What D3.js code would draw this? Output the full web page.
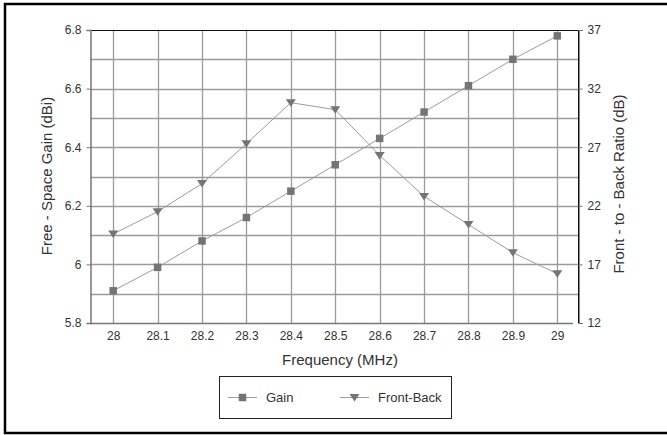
<!DOCTYPE html>
<html>
<head>
<meta charset="utf-8">
<script src="https://cdn.jsdelivr.net/npm/d3@7"></script>
<style>
  html, body { margin: 0; padding: 0; background: #fff; }
  svg { display: block; font-family: "Liberation Sans", Arial, sans-serif; }
</style>
</head>
<body>
<svg id="chart" width="667" height="435"></svg>
<script>
// Antenna sweep across the 10 m band
const frequencies = ["28", "28.1", "28.2", "28.3", "28.4", "28.5", "28.6", "28.7", "28.8", "28.9", "29"];
const gainValues = [5.91, 5.99, 6.08, 6.16, 6.25, 6.34, 6.43, 6.52, 6.61, 6.70, 6.78];
const frontBackValues = [19.6, 21.5, 23.9, 27.3, 30.8, 30.2, 26.3, 22.8, 20.4, 18.0, 16.2];
const gainTicks = [5.8, 6.0, 6.2, 6.4, 6.6, 6.8];
const gainGrid = [5.9, 6.0, 6.1, 6.2, 6.3, 6.4, 6.5, 6.6, 6.7];
const ratioTicks = [12, 17, 22, 27, 32, 37];
const seriesNames = ["Gain", "Front-Back"];

const svg = d3.select("#chart");
const plot = { left: 90, right: 578, top: 30, bottom: 323 };

const x = d3.scalePoint().domain(frequencies).range([91, 579.5]).padding(0.5);
const yGain = d3.scaleLinear().domain([5.8, 6.8]).range([plot.bottom, plot.top]);
const yRatio = d3.scaleLinear().domain([12, 37]).range([plot.bottom, plot.top]);

const textColor = "#333";
const gridColor = "#9a9a9a";
const lineColor = "#9c9c9c";
const markColor = "#747474";

// outer frame
svg.append("rect")
  .attr("x", 5).attr("y", 4).attr("width", 670).attr("height", 429)
  .attr("fill", "none").attr("stroke", "#000").attr("stroke-width", 2.5);

// grid
const grid = svg.append("g");
grid.selectAll("line.h").data(gainGrid).join("line")
  .attr("x1", plot.left).attr("x2", plot.right)
  .attr("y1", d => Math.round(yGain(d)) + 0.5).attr("y2", d => Math.round(yGain(d)) + 0.5)
  .attr("stroke", gridColor).attr("stroke-width", 1.3);
grid.selectAll("line.v").data(frequencies).join("line")
  .attr("x1", d => Math.round(x(d)) + 0.5).attr("x2", d => Math.round(x(d)) + 0.5)
  .attr("y1", plot.top).attr("y2", plot.bottom)
  .attr("stroke", gridColor).attr("stroke-width", 1.3);

// plot frame: dark top/right, grey left/bottom
svg.append("line").attr("x1", plot.left).attr("x2", plot.right + 0.5)
  .attr("y1", plot.top + 0.5).attr("y2", plot.top + 0.5).attr("stroke", "#111");
svg.append("line").attr("x1", plot.right + 0.5).attr("x2", plot.right + 0.5)
  .attr("y1", plot.top).attr("y2", plot.bottom).attr("stroke", "#111");

// left axis
const leftAxis = d3.axisLeft(yGain).tickValues(gainTicks).tickSize(4).tickPadding(5)
  .tickFormat(d => d3.format("~g")(d));
const gL = svg.append("g").attr("transform", `translate(${plot.left + 0.5},0)`).call(leftAxis);
gL.select(".domain").attr("stroke", "#777").attr("stroke-width", 1.5);
gL.selectAll(".tick line").attr("stroke", "#777");
gL.selectAll(".tick text").attr("fill", textColor).style("font-size", "12px")
  .style("font-family", "Liberation Sans, Arial, sans-serif");

// right axis
const rightAxis = d3.axisRight(yRatio).tickValues(ratioTicks).tickSize(4).tickPadding(5);
const gR = svg.append("g").attr("transform", `translate(${plot.right + 0.5},0)`).call(rightAxis);
gR.select(".domain").attr("stroke", "#111");
gR.selectAll(".tick line").attr("stroke", "#777");
gR.selectAll(".tick text").attr("fill", textColor).style("font-size", "12px")
  .style("font-family", "Liberation Sans, Arial, sans-serif");

// bottom axis
const bottomAxis = d3.axisBottom(x).tickSize(0).tickPadding(8);
const gB = svg.append("g").attr("transform", `translate(0,${plot.bottom + 0.5})`).call(bottomAxis);
gB.select(".domain").attr("d", `M${plot.left},0H${plot.right - 5}`).attr("stroke", "#777").attr("stroke-width", 1.5);
gB.selectAll(".tick text").attr("fill", textColor).style("font-size", "12px")
  .style("font-family", "Liberation Sans, Arial, sans-serif");

// axis titles
svg.append("text").attr("x", 340).attr("y", 365).attr("text-anchor", "middle")
  .attr("fill", textColor).style("font-size", "15px").text("Frequency (MHz)");
svg.append("text").attr("transform", "translate(52,176) rotate(-90)").attr("text-anchor", "middle")
  .attr("fill", textColor).style("font-size", "15px").text("Free - Space Gain (dBi)");
svg.append("text").attr("transform", "translate(624,184) rotate(-90)").attr("text-anchor", "middle")
  .attr("fill", textColor).style("font-size", "15px").text("Front - to - Back Ratio (dB)");

// series
const gainLine = d3.line().x((d, i) => x(frequencies[i])).y(d => yGain(d));
const ratioLine = d3.line().x((d, i) => x(frequencies[i])).y(d => yRatio(d));

svg.append("path").attr("d", gainLine(gainValues)).attr("fill", "none")
  .attr("stroke", lineColor).attr("stroke-width", 1);
svg.append("path").attr("d", ratioLine(frontBackValues)).attr("fill", "none")
  .attr("stroke", lineColor).attr("stroke-width", 1);

const square = d3.symbol().type(d3.symbolSquare).size(56);
const tri = "M-5,-3.5L5,-3.5L0,4Z";

svg.append("g").selectAll("path").data(gainValues).join("path")
  .attr("transform", (d, i) => `translate(${x(frequencies[i])},${yGain(d)})`)
  .attr("d", square()).attr("fill", markColor);
svg.append("g").selectAll("path").data(frontBackValues).join("path")
  .attr("transform", (d, i) => `translate(${x(frequencies[i])},${yRatio(d)})`)
  .attr("d", tri).attr("fill", markColor);

// legend
const legend = svg.append("g");
legend.append("rect").attr("x", 219.5).attr("y", 376.5).attr("width", 232).attr("height", 42)
  .attr("fill", "#fff").attr("stroke", "#222");
const legendItems = [
  { name: seriesNames[0], lx: 228, mark: square() },
  { name: seriesNames[1], lx: 340, mark: tri }
];
legendItems.forEach(it => {
  legend.append("line").attr("x1", it.lx).attr("x2", it.lx + 29).attr("y1", 397.5).attr("y2", 397.5)
    .attr("stroke", lineColor).attr("stroke-width", 1);
  legend.append("path").attr("transform", `translate(${it.lx + 14.5},397.5)`).attr("d", it.mark)
    .attr("fill", markColor);
  legend.append("text").attr("x", it.lx + 38).attr("y", 402).attr("fill", textColor)
    .style("font-size", "13px").text(it.name);
});
</script>
</body>
</html>
